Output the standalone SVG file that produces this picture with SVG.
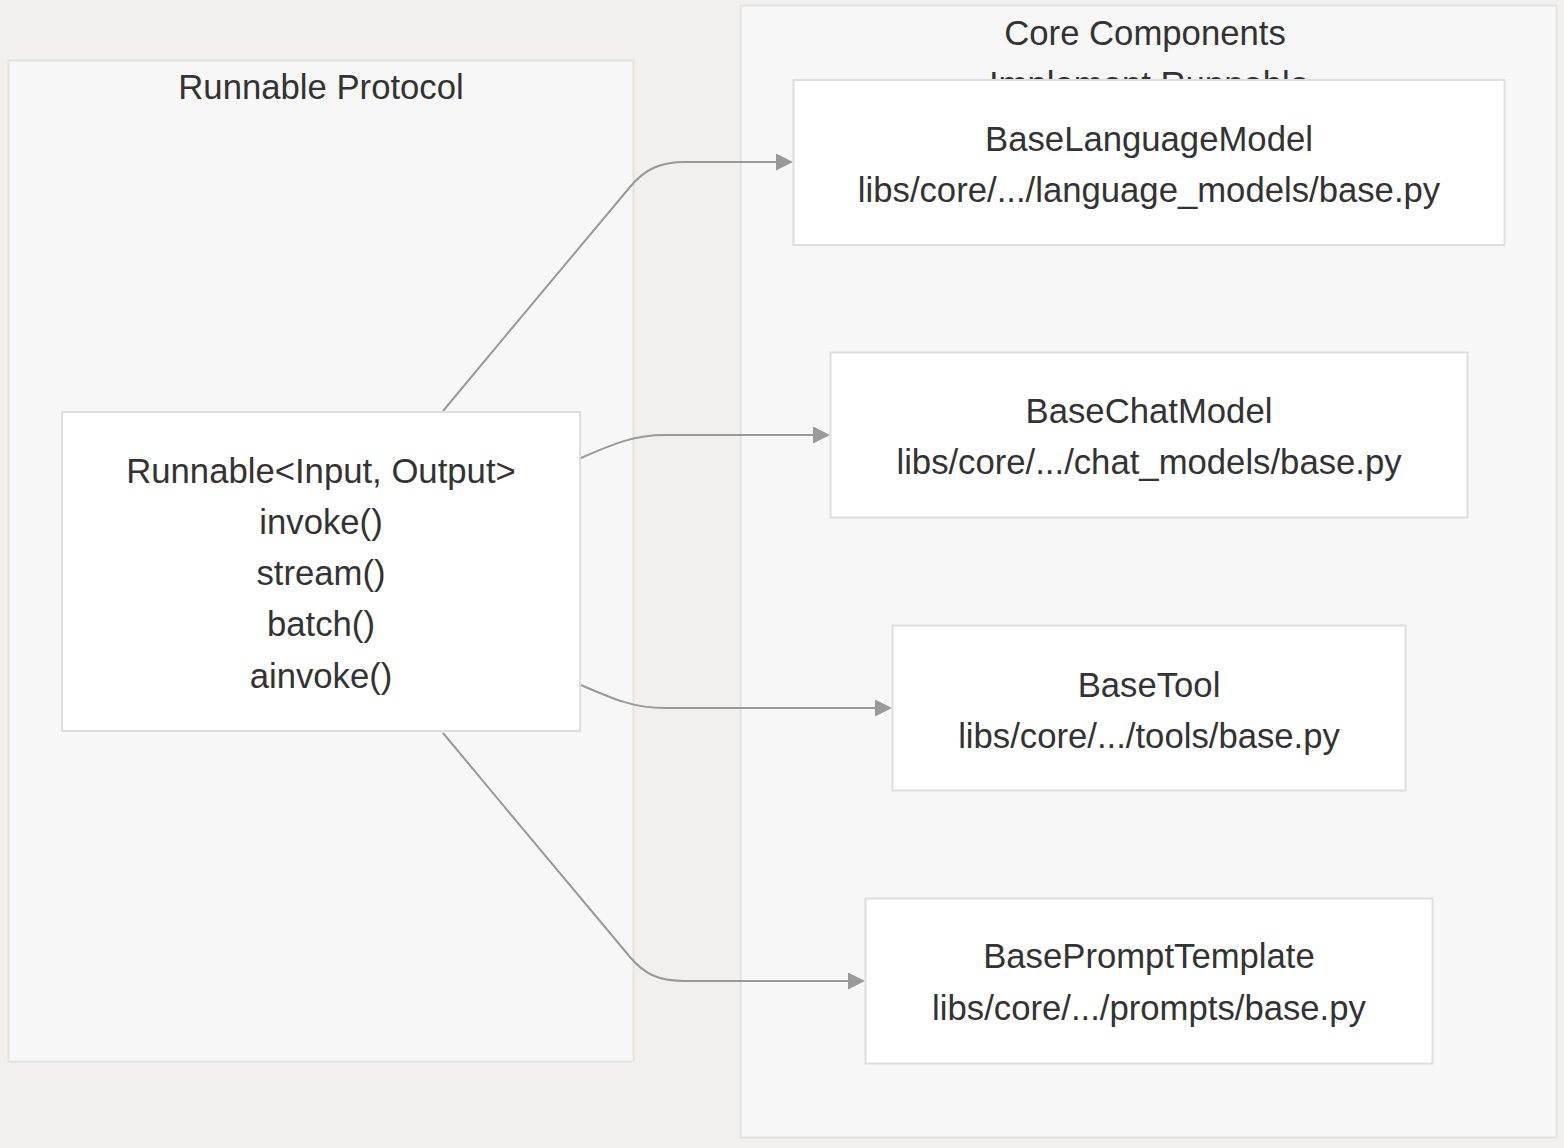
<svg xmlns="http://www.w3.org/2000/svg" width="1564" height="1148" viewBox="0 0 1564 1148">
<style>
.cluster{fill:#f7f7f7;stroke:#e2e2e2;stroke-width:2}
.node rect{fill:#ffffff;stroke:#dedede;stroke-width:2}
text{font-family:"Liberation Sans",Arial,sans-serif;font-size:34.7px;fill:#333333;text-anchor:middle}
.edge{fill:none;stroke:#999999;stroke-width:2}
</style>
<defs>
<marker id="arrow" viewBox="0 0 10 10" refX="0" refY="5" markerWidth="17" markerHeight="17" markerUnits="userSpaceOnUse" orient="auto">
<path d="M0,0 L10,5 L0,10 z" fill="#999999"/>
</marker>
</defs>
<rect x="0" y="0" width="1564" height="1148" fill="#f1f0ef"/>
<g id="cluster-runnable">
<rect class="cluster" x="8.5" y="60.5" width="625" height="1001"/>
<text x="321" y="99">Runnable Protocol</text>
</g>
<g id="cluster-core">
<rect class="cluster" x="740.5" y="5.5" width="816" height="1132"/>
<text x="1145" y="45">Core Components</text>
<text x="1149" y="96">Implement Runnable</text>
</g>
<g id="connectors">
<path class="edge" d="M443,411 C500,342 580,247 630,187 C645,169 660,162 685,162 L776,162" marker-end="url(#arrow)"/>
<path class="edge" d="M581,458 C615,443 635,435 665,435 L813,435" marker-end="url(#arrow)"/>
<path class="edge" d="M581,685 C615,700 635,708 665,708 L875,708" marker-end="url(#arrow)"/>
<path class="edge" d="M443,733 C500,802 580,897 630,957 C645,975 660,981 685,981 L848,981" marker-end="url(#arrow)"/>
</g>
<g id="node-runnable" class="node">
<rect x="62" y="412" width="518" height="319"/>
<text x="321" y="483">Runnable&lt;Input, Output&gt;</text>
<text x="321" y="534">invoke()</text>
<text x="321" y="585">stream()</text>
<text x="321" y="636">batch()</text>
<text x="321" y="688">ainvoke()</text>
</g>
<g id="node-baselanguagemodel" class="node">
<rect x="793.5" y="80" width="711" height="165"/>
<text x="1149" y="151">BaseLanguageModel</text>
<text x="1149" y="202">libs/core/.../language_models/base.py</text>
</g>
<g id="node-basechatmodel" class="node">
<rect x="830.5" y="352.5" width="637" height="165"/>
<text x="1149" y="423">BaseChatModel</text>
<text x="1149" y="474">libs/core/.../chat_models/base.py</text>
</g>
<g id="node-basetool" class="node">
<rect x="892.5" y="625.5" width="513" height="165"/>
<text x="1149" y="697">BaseTool</text>
<text x="1149" y="748">libs/core/.../tools/base.py</text>
</g>
<g id="node-baseprompttemplate" class="node">
<rect x="865.5" y="898.5" width="567" height="165"/>
<text x="1149" y="968">BasePromptTemplate</text>
<text x="1149" y="1020">libs/core/.../prompts/base.py</text>
</g>
</svg>
